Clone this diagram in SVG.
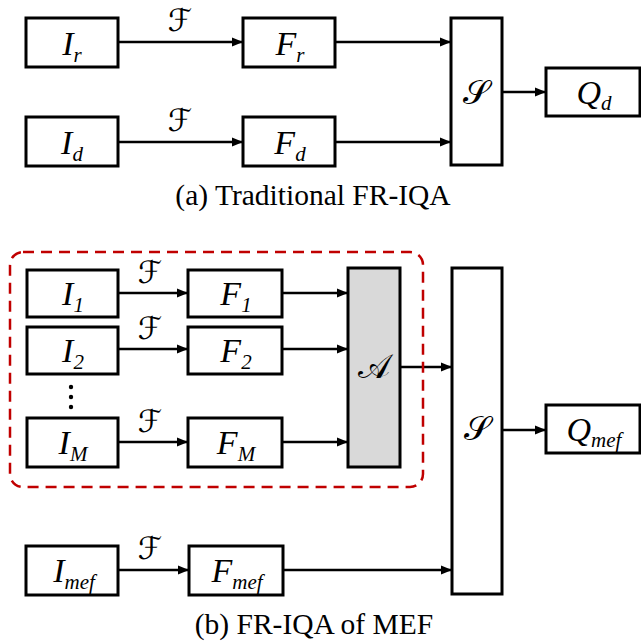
<svg xmlns="http://www.w3.org/2000/svg" width="641" height="641" viewBox="0 0 641 641">
<style>
.box{fill:#fff;stroke:#000;stroke-width:3}
.agg{fill:#d9d9d9;stroke:#000;stroke-width:3}
.line{fill:none;stroke:#000;stroke-width:2.5}
.m{font-style:italic;font-size:34px;text-anchor:middle;fill:#000}
.sub{font-size:21px}
.cal{font-size:31px;text-anchor:middle;fill:#000}
.big{font-size:34px}
.cap{font-size:29.5px;text-anchor:middle;fill:#000}
.dash{fill:none;stroke:#c00000;stroke-width:2.5;stroke-dasharray:11 7}
</style>
<defs>
<marker id="ah" markerUnits="userSpaceOnUse" markerWidth="12" markerHeight="10" refX="11" refY="5" orient="auto">
<path d="M0,0.5 L11,5 L0,9.5 z" fill="#000"/>
</marker>
</defs>

<g id="connectors">
<line class="line" x1="118" y1="42" x2="243" y2="42" marker-end="url(#ah)"/>
<line class="line" x1="335" y1="42" x2="451" y2="42" marker-end="url(#ah)"/>
<line class="line" x1="118" y1="142" x2="243" y2="142" marker-end="url(#ah)"/>
<line class="line" x1="335" y1="142" x2="451" y2="142" marker-end="url(#ah)"/>
<line class="line" x1="502" y1="92" x2="546" y2="92" marker-end="url(#ah)"/>
<line class="line" x1="118" y1="293" x2="188" y2="293" marker-end="url(#ah)"/>
<line class="line" x1="118" y1="349" x2="188" y2="349" marker-end="url(#ah)"/>
<line class="line" x1="118" y1="442" x2="188" y2="442" marker-end="url(#ah)"/>
<line class="line" x1="282" y1="293" x2="348" y2="293" marker-end="url(#ah)"/>
<line class="line" x1="282" y1="349" x2="348" y2="349" marker-end="url(#ah)"/>
<line class="line" x1="282" y1="442" x2="348" y2="442" marker-end="url(#ah)"/>
<line class="line" x1="400" y1="367" x2="452" y2="367" marker-end="url(#ah)"/>
<line class="line" x1="502" y1="430" x2="546" y2="430" marker-end="url(#ah)"/>
<line class="line" x1="118" y1="570" x2="189" y2="570" marker-end="url(#ah)"/>
<line class="line" x1="283" y1="570" x2="452" y2="570" marker-end="url(#ah)"/>
<g font-family="DejaVu Sans, sans-serif">
<text class="cal" x="180" y="31">ℱ</text>
<text class="cal" x="180" y="131">ℱ</text>
<text class="cal" x="150" y="283">ℱ</text>
<text class="cal" x="150" y="339">ℱ</text>
<text class="cal" x="150" y="432">ℱ</text>
<text class="cal" x="150" y="559">ℱ</text>
</g>
</g>

<g id="group-a">
<rect class="dash" x="10" y="252" width="413" height="235" rx="13"/>
</g>

<g font-family="Liberation Serif, serif">
<g id="Ir"><rect class="box" x="26" y="18" width="92" height="49"/><text class="m" x="72" y="55">I<tspan class="sub" dy="7">r</tspan></text></g>
<g id="Fr"><rect class="box" x="243" y="18" width="92" height="49"/><text class="m" x="290" y="55">F<tspan class="sub" dy="7">r</tspan></text></g>
<g id="Id"><rect class="box" x="26" y="117" width="92" height="49"/><text class="m" x="72" y="154">I<tspan class="sub" dy="7">d</tspan></text></g>
<g id="Fd"><rect class="box" x="243" y="117" width="92" height="49"/><text class="m" x="290" y="154">F<tspan class="sub" dy="7">d</tspan></text></g>
<g id="S1"><rect class="box" x="451" y="18" width="51" height="147"/><text class="cal big" x="476" y="104" font-family="DejaVu Serif, serif">𝒮</text></g>
<g id="Qd"><rect class="box" x="546" y="68" width="94" height="48"/><text class="m" x="594" y="104">Q<tspan class="sub" dy="6">d</tspan></text></g>
<text class="cap" x="313" y="205">(a) Traditional FR-IQA</text>

<g id="I1"><rect class="box" x="27" y="270" width="91" height="47"/><text class="m" x="73" y="305">I<tspan class="sub" dy="7">1</tspan></text></g>
<g id="I2"><rect class="box" x="27" y="327" width="91" height="47"/><text class="m" x="73" y="362">I<tspan class="sub" dy="7">2</tspan></text></g>
<g id="dots"><circle cx="71" cy="387" r="2.2"/><circle cx="71" cy="397" r="2.2"/><circle cx="71" cy="407" r="2.2"/></g>
<g id="IM"><rect class="box" x="27" y="418" width="91" height="49"/><text class="m" x="73" y="454">I<tspan class="sub" dy="7">M</tspan></text></g>
<g id="F1"><rect class="box" x="188" y="270" width="94" height="47"/><text class="m" x="236" y="305">F<tspan class="sub" dy="7">1</tspan></text></g>
<g id="F2"><rect class="box" x="188" y="327" width="94" height="47"/><text class="m" x="236" y="362">F<tspan class="sub" dy="7">2</tspan></text></g>
<g id="FM"><rect class="box" x="188" y="418" width="94" height="49"/><text class="m" x="236" y="454">F<tspan class="sub" dy="7">M</tspan></text></g>
<g id="A"><rect class="agg" x="348" y="268" width="52" height="199"/><text class="cal big" x="374" y="378" font-family="DejaVu Serif, serif">𝒜</text></g>
<g id="S2"><rect class="box" x="452" y="268" width="50" height="326"/><text class="cal big" x="477" y="440" font-family="DejaVu Serif, serif">𝒮</text></g>
<g id="Qmef"><rect class="box" x="546" y="405" width="94" height="48"/><text class="m" x="594" y="441">Q<tspan class="sub" dy="6">mef</tspan></text></g>
<g id="Imef"><rect class="box" x="26" y="546" width="92" height="49"/><text class="m" x="74" y="582">I<tspan class="sub" dy="7">mef</tspan></text></g>
<g id="Fmef"><rect class="box" x="189" y="546" width="94" height="49"/><text class="m" x="237" y="582">F<tspan class="sub" dy="7">mef</tspan></text></g>
<text class="cap" x="314" y="634">(b) FR-IQA of MEF</text>
</g>
</svg>
